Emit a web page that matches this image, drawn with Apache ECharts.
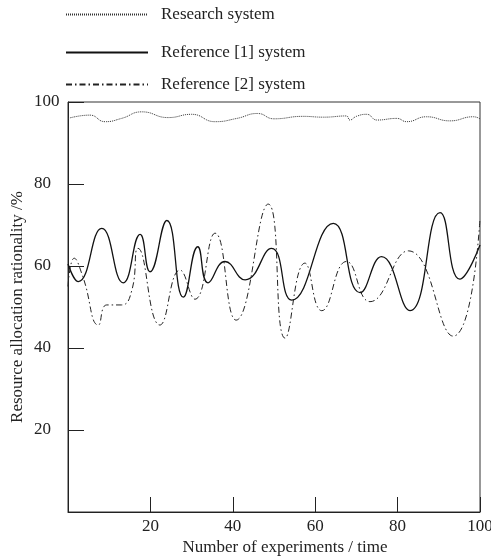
<!DOCTYPE html>
<html>
<head>
<meta charset="utf-8">
<script src="https://cdn.jsdelivr.net/npm/echarts@6/dist/echarts.min.js"></script>
<style>
  html, body { margin: 0; padding: 0; background: #fff; }
  #chart { width: 491px; height: 559px; }
</style>
</head>
<body>
<div id="chart"></div>
<script>
// series names
const seriesNames = ['Research system', 'Reference [1] system', 'Reference [2] system']

// research system (dotted line)
const researchX = [0, 5.3, 9, 13, 17.9, 24.3, 30, 35.7, 41, 46, 50, 57, 62, 67.6, 68.4, 70, 72.5, 75, 79.8, 82.2, 87, 92.7, 98.4, 100]
const researchY = [96.0, 96.8, 95.2, 96.0, 97.6, 96.2, 97.0, 95.2, 96.0, 97.2, 95.9, 96.5, 96.3, 96.6, 95.6, 96.5, 97.0, 95.6, 96.0, 95.2, 96.4, 95.4, 96.4, 95.9]

// reference [1] system (solid line)
const ref1X = [0, 2.5, 8.2, 13.4, 17.5, 19.9, 24, 28, 31.5, 34, 38.1, 43, 49.4, 54.3, 64.4, 70.9, 76.1, 83, 90.3, 95.1, 100]
const ref1Y = [60.5, 56.2, 69.2, 55.9, 67.7, 58.6, 71.1, 52.4, 64.7, 55.9, 61.1, 56.6, 64.3, 51.7, 70.4, 53.5, 62.3, 49.1, 73.0, 56.8, 65.1]

// reference [2] system (dash-dot line)
const ref2X = [0, 1.5, 3.6, 7.4, 9.4, 13, 15.5, 17, 22.3, 27.2, 30.8, 35.7, 40.8, 48.6, 52.7, 57.5, 61.6, 67.6, 73.3, 82.6, 93.5, 100]
const ref2Y = [55, 61.9, 57.4, 45.6, 50.5, 50.5, 54.1, 64.3, 45.6, 59, 51.9, 68.0, 46.8, 75.1, 42.4, 60.7, 49.1, 61.1, 51.3, 63.7, 42.9, 71.6]

const pairs = (xs, ys) => xs.map((x, i) => [x, ys[i]])

const font = 'Liberation Serif'
const chart = echarts.init(document.getElementById('chart'), null, { renderer: 'canvas' })

// one legend per row, rows are not evenly spaced
const legendRow = (name, top) => ({
  data: [name],
  left: 65,
  top: top,
  padding: 0,
  itemWidth: 82,
  itemHeight: 14,
  selectedMode: false,
  itemStyle: { opacity: 0 },
  textStyle: { fontFamily: font, fontSize: 17, color: '#222', padding: [0, 0, 0, 8] }
})

chart.setOption({
  animation: false,
  backgroundColor: '#fff',
  legend: [legendRow(seriesNames[0], 6), legendRow(seriesNames[1], 44), legendRow(seriesNames[2], 76)],
  grid: {
    left: 68, right: 11, top: 102, bottom: 47,
    containLabel: false,
    outerBoundsMode: 'none',
    show: true, borderColor: '#333', borderWidth: 1
  },
  xAxis: {
    type: 'value',
    min: 0, max: 100, interval: 20,
    name: 'Number of experiments / time',
    nameLocation: 'middle',
    nameMoveOverlap: false,
    nameGap: 27,
    nameTextStyle: { fontFamily: font, fontSize: 17, color: '#222', padding: [0, 0, 0, 22] },
    axisLine: { lineStyle: { color: '#222' } },
    axisTick: { inside: true, length: 15, lineStyle: { color: '#222' } },
    axisLabel: { showMinLabel: false, fontFamily: font, fontSize: 17, color: '#222', margin: 6 },
    splitLine: { show: false }
  },
  yAxis: {
    type: 'value',
    min: 0, max: 100, interval: 20,
    name: 'Resource allocation rationality /%',
    nameLocation: 'middle',
    nameMoveOverlap: false,
    nameGap: 42,
    nameTextStyle: { fontFamily: font, fontSize: 17, color: '#222' },
    axisLine: { lineStyle: { color: '#222' } },
    axisTick: { inside: true, length: 16, lineStyle: { color: '#222' } },
    // labels are left-aligned in the reference
    axisLabel: { showMinLabel: false, align: 'left', fontFamily: font, fontSize: 17, color: '#222', margin: 34 },
    splitLine: { show: false }
  },
  series: [
    {
      name: seriesNames[0], type: 'line', data: pairs(researchX, researchY),
      smooth: 0.5, symbol: 'none',
      lineStyle: { color: '#333', width: 1, type: [1, 1] }, itemStyle: { color: '#333' }
    },
    {
      name: seriesNames[1], type: 'line', data: pairs(ref1X, ref1Y),
      smooth: 0.5, symbol: 'none',
      lineStyle: { color: '#111', width: 1.3, type: 'solid' }, itemStyle: { color: '#111' }
    },
    {
      name: seriesNames[2], type: 'line', data: pairs(ref2X, ref2Y),
      smooth: 0.5, symbol: 'none',
      lineStyle: { color: '#222', width: 1, type: [6, 3, 1.5, 3] }, itemStyle: { color: '#222' }
    }
  ]
})
</script>
</body>
</html>
